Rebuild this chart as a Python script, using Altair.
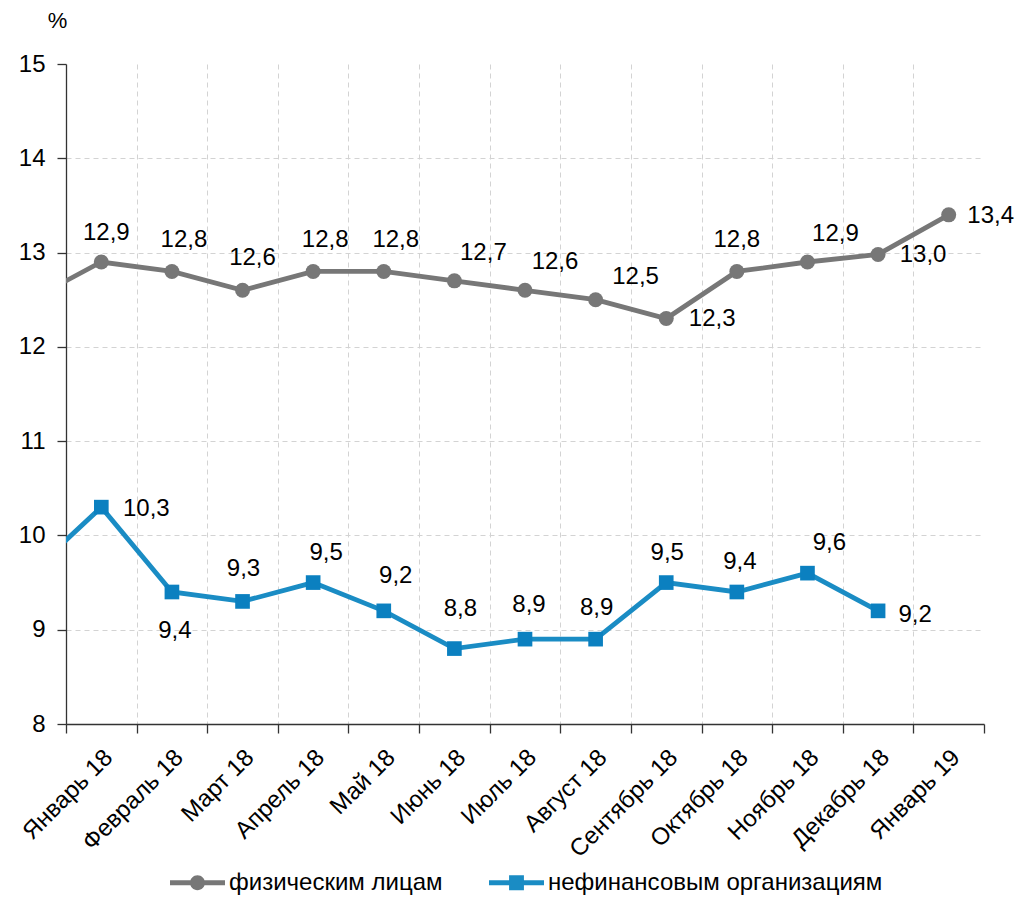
import json
import altair as alt
import pandas as pd

FONT = "Liberation Sans"

# ---------------- data ----------------
months = ["Январь 18", "Февраль 18", "Март 18", "Апрель 18", "Май 18", "Июнь 18",
          "Июль 18", "Август 18", "Сентябрь 18", "Октябрь 18", "Ноябрь 18",
          "Декабрь 18", "Январь 19"]
series_names = ["физическим лицам", "нефинансовым организациям"]
rate_individuals = [12.9, 12.8, 12.6, 12.8, 12.8, 12.7, 12.6, 12.5, 12.3, 12.8, 12.9, 12.98, 13.4]
rate_nonfinancial = [10.3, 9.4, 9.3, 9.5, 9.2, 8.8, 8.9, 8.9, 9.5, 9.4, 9.6, 9.2, None]
# previous month (only visible as the clipped start of each line)
prev_month = "Декабрь 17"
prev_individuals = 12.5
prev_nonfinancial = 9.6
y_ticks = [8, 9, 10, 11, 12, 13, 14, 15]

# ---------------- styles ----------------
GRAY = "#777777"
BLUE = "#1a8cc4"
BLUE_MARK = "#0b80c0"
GRID = "#d3d3d3"
AXIS = "#333333"

# value-label offsets in px per point (style, not data)
label_off_individuals = [(5, -29), (12, -31), (10, -32), (12, -31), (12, -31), (29, -28),
                         (30, -28), (40, -23), (46, 0), (0, -31), (28, -28), (45, 1), (42, 1)]
label_off_nonfinancial = [(45, 2), (3, 39), (1, -32), (13, -30), (12, -35), (6, -40),
                          (4, -34), (1, -31), (1, -30), (3, -30), (22, -30), (37, 4)]

rows = []
for name, prev, vals, offs in [
    (series_names[0], prev_individuals, rate_individuals, label_off_individuals),
    (series_names[1], prev_nonfinancial, rate_nonfinancial, label_off_nonfinancial),
]:
    rows.append(dict(series=name, month=prev_month, pos=-0.5, value=prev, label="", place="none"))
    for i, (m, v) in enumerate(zip(months, vals)):
        if v is None:
            continue
        rows.append(dict(series=name, month=m, pos=i + 0.5, value=v,
                         label=f"{v:.1f}".replace(".", ","),
                         place=f"{offs[i][0]}_{offs[i][1]}"))
df = pd.DataFrame(rows)

unique_offsets = sorted(set(label_off_individuals) | set(label_off_nonfinancial))

# legend symbols: line with marker (custom paths in the unit square)
circle_sym = ("M-1,-0.09 L1,-0.09 L1,0.09 L-1,0.09 Z "
              "M-0.27,0 A0.27,0.27 0 1,1 0.27,0 A0.27,0.27 0 1,1 -0.27,0 Z")
square_sym = ("M-1,-0.09 L1,-0.09 L1,0.09 L-1,0.09 Z "
              "M-0.27,-0.27 L0.27,-0.27 L0.27,0.27 L-0.27,0.27 Z")

color_scale = alt.Scale(domain=series_names, range=[GRAY, BLUE])
shape_scale = alt.Scale(domain=series_names, range=[circle_sym, square_sym])

label_expr = ("datum.value < " + str(len(months)) + " ? "
              + json.dumps(months, ensure_ascii=False) + "[datum.value] : ''")

x_enc = alt.X(
    "pos:Q",
    scale=alt.Scale(domain=[0, len(months)], nice=False, zero=False),
    axis=alt.Axis(
        values=list(range(len(months) + 1)),
        labelExpr=label_expr,
        labelAngle=-45, labelAlign="right", labelBaseline="top",
        labelOffset=34, labelPadding=12,
        labelFontSize=24, labelColor="black", labelOverlap=False,
        labelFlush=False, labelBound=False, labelLimit=300,
        tickSize=9, tickColor=AXIS, domainColor=AXIS, domainWidth=1.3, tickWidth=1.3,
        grid=True, gridDash=[5, 4], gridColor=GRID,
        gridOpacity=alt.condition("datum.value >= 13 || datum.value <= 0", alt.value(0), alt.value(1)),
        title=None,
    ),
)
y_enc = alt.Y(
    "value:Q",
    scale=alt.Scale(domain=[8, 15], nice=False, zero=False),
    axis=alt.Axis(
        values=y_ticks, format="d",
        labelFontSize=24, labelColor="black", labelPadding=12,
        tickSize=9, tickColor=AXIS, domainColor=AXIS, domainWidth=1.3, tickWidth=1.3,
        grid=True, gridDash=[5, 4], gridColor=GRID,
        gridOpacity=alt.condition("datum.value >= 15 || datum.value <= 8", alt.value(0), alt.value(1)),
        title="%", titleAngle=0, titleX=-9, titleY=-44, titleFontSize=22,
        titleFontWeight="normal", titleAlign="center", titleBaseline="middle",
        titleColor="black",
    ),
)

base = alt.Chart(df)

legend_props = dict(
    orient="none", legendX=104, legendY=791, direction="horizontal", title=None,
    symbolSize=3025, symbolStrokeWidth=0, symbolOpacity=1,
    labelFontSize=24, labelFont=FONT, labelColor="black", labelLimit=500,
    labelOffset=4, columnPadding=46, padding=0,
)

legend_layer = base.mark_point(filled=True, opacity=0).encode(
    x=x_enc, y=y_enc,
    color=alt.Color("series:N", scale=color_scale, legend=alt.Legend(**legend_props)),
    shape=alt.Shape("series:N", scale=shape_scale, legend=alt.Legend(**legend_props)),
)

lines = base.mark_line(strokeWidth=4.8, clip=True).encode(
    x=x_enc, y=y_enc,
    color=alt.Color("series:N", scale=color_scale, legend=None),
    order="pos:Q",
)

circles = base.transform_filter(
    (alt.datum.series == series_names[0]) & (alt.datum.pos >= 0)
).mark_point(shape="circle", filled=True, size=225, opacity=1, color=GRAY).encode(x=x_enc, y=y_enc)

squares = base.transform_filter(
    (alt.datum.series == series_names[1]) & (alt.datum.pos >= 0)
).mark_point(shape="square", filled=True, size=215, opacity=1, color=BLUE_MARK).encode(x=x_enc, y=y_enc)

text_layers = []
for dx, dy in unique_offsets:
    text_layers.append(
        base.transform_filter(alt.datum.place == f"{dx}_{dy}")
        .mark_text(dx=dx, dy=dy, fontSize=24, font=FONT, color="black",
                   align="center", baseline="middle")
        .encode(x=x_enc, y=y_enc, text="label:N")
    )

chart = alt.layer(legend_layer, lines, circles, squares, *text_layers).properties(
    width=918, height=660,
    autosize=alt.AutoSizeParams(type="none"),
    padding={"left": 58, "top": 56, "right": 35, "bottom": 173},
    background="white",
).configure_view(stroke=None).configure_axis(
    labelFont=FONT, titleFont=FONT
).configure_legend(labelFont=FONT)

chart.save("out.html", embed_options={"renderer": "svg", "actions": False})
